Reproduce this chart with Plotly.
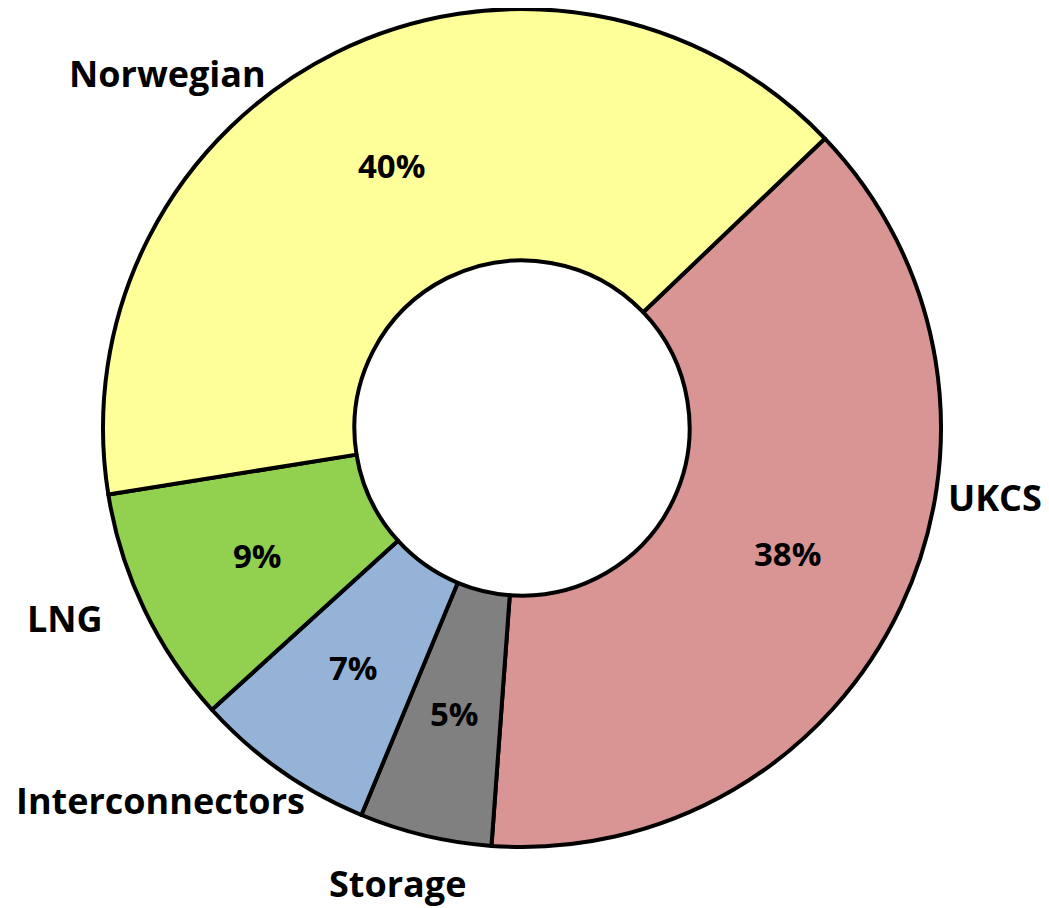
import math
import plotly.graph_objects as go

labels = ["UKCS", "Storage", "Interconnectors", "LNG", "Norwegian"]
values = [38.3, 5.1, 7.0, 9.2, 40.4]
colors = ["#D99594", "#808080", "#95B3D7", "#92D050", "#FFFF99"]

# outside label positions (pixels in reference image)
label_pos = {
    "UKCS": (995, 497),
    "Storage": (397, 883),
    "Interconnectors": (160, 800),
    "LNG": (65, 618),
    "Norwegian": (167, 73),
}

W, H = 1049, 908
OFF = 8  # page offset of the plot in the screenshot
cx, cy, R = 522 - OFF, 428 - OFF, 419
HOLE = 0.4
ROT = 46.3

fig = go.Figure(go.Pie(
    labels=labels,
    values=values,
    sort=False,
    direction="clockwise",
    rotation=ROT,
    hole=HOLE,
    marker=dict(colors=colors, line=dict(color="black", width=4)),
    textinfo="none",
    domain=dict(x=[(cx - R) / W, (cx + R) / W], y=[(H - cy - R) / H, (H - cy + R) / H]),
    showlegend=False,
    hoverinfo="label+percent",
))

# percentage labels placed at the middle of the ring, at each slice's mid-angle
total = sum(values)
start = ROT
rmid = R * (1 + HOLE) / 2
for name, v in zip(labels, values):
    span = v / total * 360
    mid = math.radians(start + span / 2)
    start += span
    px = cx + rmid * math.sin(mid)
    py = cy - rmid * math.cos(mid)
    fig.add_annotation(
        x=px / W, y=1 - py / H, xref="paper", yref="paper",
        text="<b>%d%%</b>" % round(v / total * 100), showarrow=False,
        font=dict(family="Open Sans", size=33, color="black"),
        xanchor="center", yanchor="middle",
    )

for name in labels:
    x, y = label_pos[name]
    fig.add_annotation(
        x=(x - OFF) / W, y=1 - (y - OFF) / H, xref="paper", yref="paper",
        text="<b>%s</b>" % name, showarrow=False,
        font=dict(family="Open Sans", size=36, color="black"),
        xanchor="center", yanchor="middle",
    )

fig.update_layout(
    width=W, height=H,
    margin=dict(l=0, r=0, t=0, b=0),
    paper_bgcolor="white",
    plot_bgcolor="white",
)

fig.write_html("out.html")
